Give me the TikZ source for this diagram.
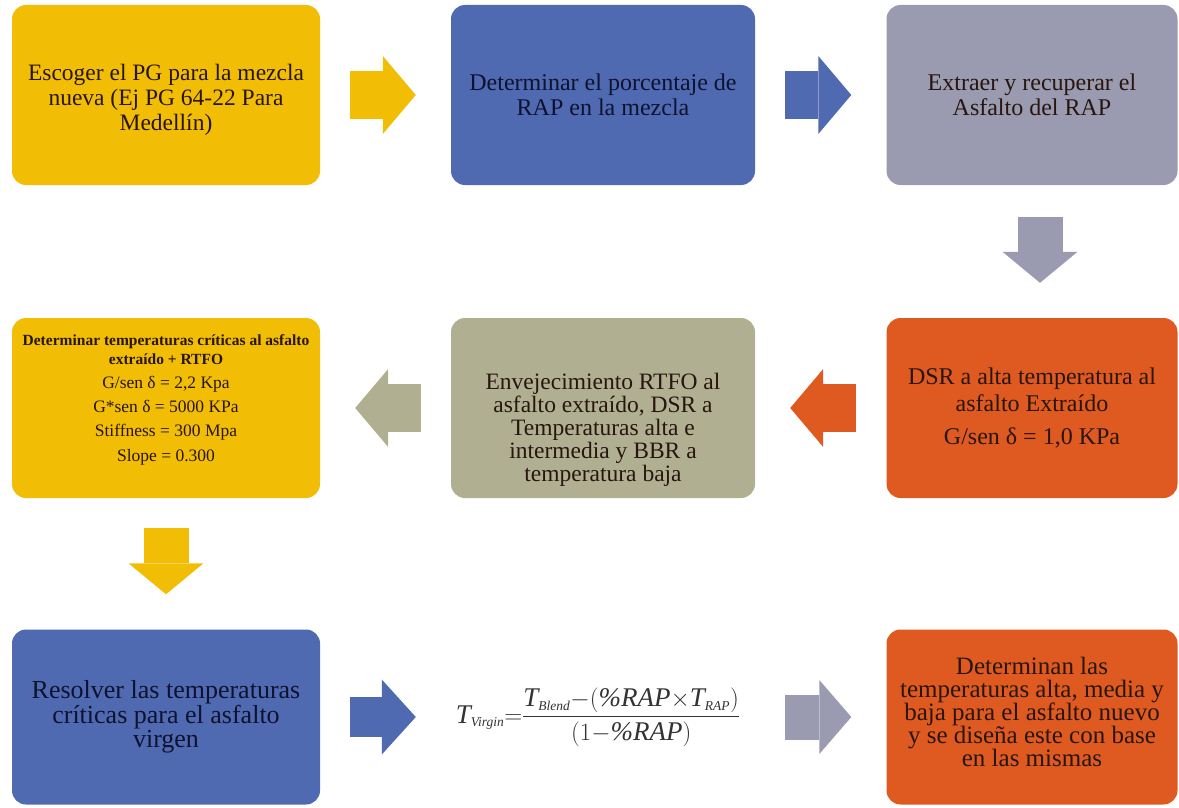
\documentclass[tikz,border=0pt]{standalone}
\usepackage{amsmath}
\usepackage{fontspec}
\setmainfont{Liberation Serif}
\usetikzlibrary{arrows.meta,positioning}
\definecolor{oro}{RGB}{242,190,5}
\definecolor{azul}{RGB}{80,106,178}
\definecolor{gris}{RGB}{154,155,176}
\definecolor{naranja}{RGB}{222,90,32}
\definecolor{oliva}{RGB}{176,175,146}
\definecolor{tinta}{RGB}{40,22,14}
\definecolor{tintaazul}{RGB}{14,18,48}

\begin{document}
\begin{tikzpicture}[x=1pt,y=-1pt,caja/.style={rounded corners=14pt,minimum height=180pt,inner sep=0pt,align=center,text=tinta,font=\fontsize{24}{25}\selectfont},flecha/.style={line width=48pt,-{Triangle[length=33pt,width=78pt,line width=0pt]},shorten <=30pt,shorten >=35pt}]
  \useasboundingbox (0,0) rectangle (1179,808);

  \node[caja,fill=oro,minimum width=308pt,font=\fontsize{23.5}{25}\selectfont] (pg) at (166,95) {\mbox{}\\[2pt]Escoger el PG para la mezcla\\nueva (Ej PG 64-22 Para\\Medellín)};
  \node[caja,fill=azul,minimum width=304pt,text=tintaazul] (rap) at (603,95) {Determinar el porcentaje de\\RAP en la mezcla};
  \node[caja,fill=gris,minimum width=291pt] (extraer) at (1032,95) {Extraer y recuperar el\\Asfalto del RAP};

  \node[caja,fill=oro,minimum width=308pt,font=\fontsize{17.5}{24}\selectfont] (criticas) at (166,408) {\textbf{\fontsize{15.5}{17}\selectfont Determinar temperaturas críticas al asfalto}\\[-5pt]\textbf{\fontsize{15.5}{17}\selectfont extraído + RTFO}\\G/sen δ = 2,2 Kpa\\G*sen δ = 5000 KPa\\Stiffness = 300 Mpa\\[1pt]Slope = 0.300\\[-4pt]\mbox{}};
  \node[caja,fill=oliva,minimum width=304pt,font=\fontsize{23.5}{23}\selectfont] (rtfo) at (603,408) {\mbox{}\\[36pt]Envejecimiento RTFO al\\asfalto extraído, DSR a\\Temperaturas alta e\\intermedia y BBR a\\temperatura baja};
  \node[caja,fill=naranja,minimum width=291pt,font=\fontsize{24}{27}\selectfont] (dsr) at (1032,408) {DSR a alta temperatura al\\asfalto Extraído\\[6pt]G/sen δ = 1,0 KPa};

  \node[caja,fill=azul,minimum width=308pt,minimum height=175pt,text=tintaazul,font=\fontsize{26}{22}\selectfont] (resolver) at (166,717) {Resolver las temperaturas\\críticas para el asfalto\\virgen};
  \node[text width=304pt,minimum height=175pt,inner sep=0pt,align=center,font=\fontsize{27}{32}\selectfont,text=black!80] (formula) at (598,717) {$\textit{T}_{\scriptscriptstyle\textit{Virgin}}{=}\dfrac{\textit{T}_{\scriptscriptstyle\textit{Blend}}{-}(\textit{\%RAP}{\times}\textit{T}_{\scriptscriptstyle\textit{RAP}})}{(1{-}\textit{\%RAP})}$};
  \node[caja,fill=naranja,minimum width=291pt,minimum height=175pt,font=\fontsize{25}{23}\selectfont] (nuevo) at (1032,717) {Determinan las\\temperaturas alta, media y\\baja para el asfalto nuevo\\y se diseña este con base\\en las mismas\\[-12pt]\mbox{}};

  \draw[flecha,oro] (pg.east) -- (rap.west);
  \draw[flecha,azul] (rap.east) -- (extraer.west);
  \draw[flecha,gris,line width=45pt,-{Triangle[length=31pt,width=75pt,line width=0pt]},shorten <=32pt] ([xshift=8pt]extraer.south) -- ([xshift=8pt]dsr.north);
  \draw[flecha,naranja] (dsr.west) -- (rtfo.east);
  \draw[flecha,oliva] (rtfo.west) -- (criticas.east);
  \draw[flecha,oro,line width=45pt,-{Triangle[length=31pt,width=75pt,line width=0pt]}] (criticas.south) -- (resolver.north);
  \draw[flecha,azul,line width=40pt,-{Triangle[length=34pt,width=75pt,line width=0pt]}] (resolver.east) -- ([xshift=5pt]formula.west);
  \draw[flecha,gris,line width=45pt,-{Triangle[length=32pt,width=74pt,line width=0pt]}] ([xshift=5pt]formula.east) -- (nuevo.west);
 \end{tikzpicture}
\end{document}
